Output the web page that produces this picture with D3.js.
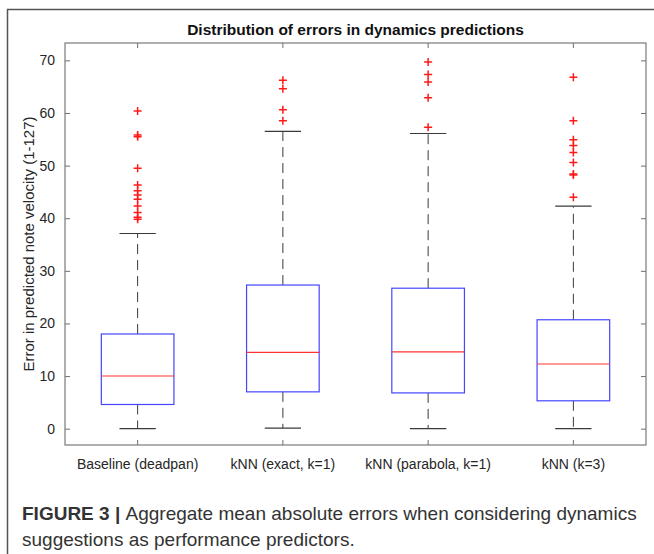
<!DOCTYPE html>
<html>
<head>
<meta charset="utf-8">
<script src="https://cdn.jsdelivr.net/npm/d3@7"></script>
<style>
  body { margin: 0; background: #fff; }
  text { font-family: "Liberation Sans", Arial, Helvetica, sans-serif; }
</style>
</head>
<body>
<div id="chart"></div>
<script>
// box statistics
const categories = ["Baseline (deadpan)", "kNN (exact, k=1)", "kNN (parabola, k=1)", "kNN (k=3)"]
const lowerWhisker = [0, 0.1, 0, 0]
const q1 = [4.6, 7.0, 6.8, 5.3]
const median = [10.0, 14.5, 14.6, 12.3]
const q3 = [18.0, 27.3, 26.7, 20.7]
const upperWhisker = [37.1, 56.5, 56.1, 42.3]
const outliers = [
  [60.4, 55.8, 55.5, 49.5, 46.3, 45.2, 44.4, 43.6, 42.3, 41.1, 40.2, 39.8],
  [66.2, 64.6, 60.6, 58.5],
  [69.7, 67.3, 65.9, 62.9, 57.3],
  [66.8, 58.5, 54.9, 53.8, 52.5, 50.6, 48.4, 48.2, 44.0]
]
const yTicks = [0, 10, 20, 30, 40, 50, 60, 70]

const W = 654, H = 554
const plot = {left: 65, right: 646, top: 43, bottom: 445}

const svg = d3.select("#chart").append("svg")
    .attr("width", W)
    .attr("height", H)

// outer figure frame (top + left)
svg.append("path")
    .attr("d", `M7.5,${H} L7.5,9.5 L${W},9.5`)
    .attr("fill", "none")
    .attr("stroke", "#555")
    .attr("stroke-width", 1.5)

const x = d3.scaleBand()
    .domain(categories)
    .range([plot.left, plot.right])
    .paddingInner(0)

const y = d3.scaleLinear()
    .domain([-3.1, 73.3])
    .range([plot.bottom, plot.top])

const boxW = x.bandwidth() * 0.5
const capW = x.bandwidth() * 0.25
const cx = d => x(d) + x.bandwidth() / 2

const tickLen = 5

// axes
svg.append("g")
    .attr("transform", `translate(${plot.left},0)`)
    .call(d3.axisLeft(y).tickValues(yTicks).tickSizeInner(-tickLen).tickSizeOuter(0).tickPadding(10))
svg.append("g")
    .attr("transform", `translate(${plot.right},0)`)
    .call(d3.axisRight(y).tickValues(yTicks).tickSizeInner(-tickLen).tickSizeOuter(0).tickFormat(""))
svg.append("g")
    .attr("transform", `translate(0,${plot.bottom})`)
    .call(d3.axisBottom(x).tickSizeInner(-tickLen).tickSizeOuter(0).tickPadding(14))
svg.append("g")
    .attr("transform", `translate(0,${plot.top})`)
    .call(d3.axisTop(x).tickSizeInner(-tickLen).tickSizeOuter(0).tickFormat(""))

svg.selectAll(".domain").remove()
svg.selectAll(".tick line").attr("stroke", "#6e6e6e")
svg.selectAll(".tick text")
    .attr("fill", "#262626")
    .style("font-size", "14px")

// plot frame
svg.append("rect")
    .attr("x", plot.left)
    .attr("y", plot.top)
    .attr("width", plot.right - plot.left)
    .attr("height", plot.bottom - plot.top)
    .attr("fill", "none")
    .attr("stroke", "#7a7a7a")
    .attr("stroke-width", 1.2)

const idx = d3.range(categories.length)
const g = svg.append("g")

// whiskers (dashed)
g.selectAll(".whiskerUp")
  .data(idx)
  .join("line")
    .attr("x1", i => cx(categories[i]))
    .attr("x2", i => cx(categories[i]))
    .attr("y1", i => y(q3[i]))
    .attr("y2", i => y(upperWhisker[i]))
    .attr("stroke", "#3a3a3a")
    .attr("stroke-dasharray", "10,6")

g.selectAll(".whiskerDown")
  .data(idx)
  .join("line")
    .attr("x1", i => cx(categories[i]))
    .attr("x2", i => cx(categories[i]))
    .attr("y1", i => y(q1[i]))
    .attr("y2", i => y(lowerWhisker[i]))
    .attr("stroke", "#3a3a3a")
    .attr("stroke-dasharray", "10,6")

// caps
const caps = idx.flatMap(i => [[i, upperWhisker[i]], [i, lowerWhisker[i]]])
g.selectAll(".cap")
  .data(caps)
  .join("line")
    .attr("x1", d => cx(categories[d[0]]) - capW / 2)
    .attr("x2", d => cx(categories[d[0]]) + capW / 2)
    .attr("y1", d => y(d[1]))
    .attr("y2", d => y(d[1]))
    .attr("stroke", "#3a3a3a")
    .attr("stroke-width", 1.2)

// boxes
g.selectAll(".box")
  .data(idx)
  .join("rect")
    .attr("x", i => cx(categories[i]) - boxW / 2)
    .attr("y", i => y(q3[i]))
    .attr("width", boxW)
    .attr("height", i => y(q1[i]) - y(q3[i]))
    .attr("fill", "none")
    .attr("stroke", "#4545ff")
    .attr("stroke-width", 1.2)

// medians
g.selectAll(".median")
  .data(idx)
  .join("line")
    .attr("x1", i => cx(categories[i]) - boxW / 2)
    .attr("x2", i => cx(categories[i]) + boxW / 2)
    .attr("y1", i => y(median[i]))
    .attr("y2", i => y(median[i]))
    .attr("stroke", "#ff3535")
    .attr("stroke-width", 1.1)

// outliers as red plus signs
const pts = idx.flatMap(i => outliers[i].map(v => [i, v]))
const m = 4
g.selectAll(".outlier")
  .data(pts)
  .join("path")
    .attr("d", d => {
      const px = cx(categories[d[0]]), py = y(d[1])
      return `M${px - m},${py} H${px + m} M${px},${py - m} V${py + m}`
    })
    .attr("stroke", "#ff1a1a")
    .attr("stroke-width", 1.5)
    .attr("fill", "none")

// title
svg.append("text")
    .attr("x", (plot.left + plot.right) / 2)
    .attr("y", 35)
    .attr("text-anchor", "middle")
    .style("font-size", "15.5px")
    .style("font-weight", "bold")
    .attr("fill", "#111")
    .text("Distribution of errors in dynamics predictions")

// y label
svg.append("text")
    .attr("transform", `translate(34,${(plot.top + plot.bottom) / 2}) rotate(-90)`)
    .attr("text-anchor", "middle")
    .style("font-size", "15px")
    .attr("fill", "#262626")
    .text("Error in predicted note velocity (1-127)")

// caption
const cap1 = svg.append("text")
    .attr("x", 22)
    .attr("y", 520)
    .style("font-size", "19px")
    .attr("fill", "#333")
cap1.append("tspan").style("font-weight", "bold").text("FIGURE 3 | ")
cap1.append("tspan").text("Aggregate mean absolute errors when considering dynamics")

svg.append("text")
    .attr("x", 22)
    .attr("y", 546)
    .style("font-size", "19px")
    .attr("fill", "#333")
    .text("suggestions as performance predictors.")
</script>
</body>
</html>
